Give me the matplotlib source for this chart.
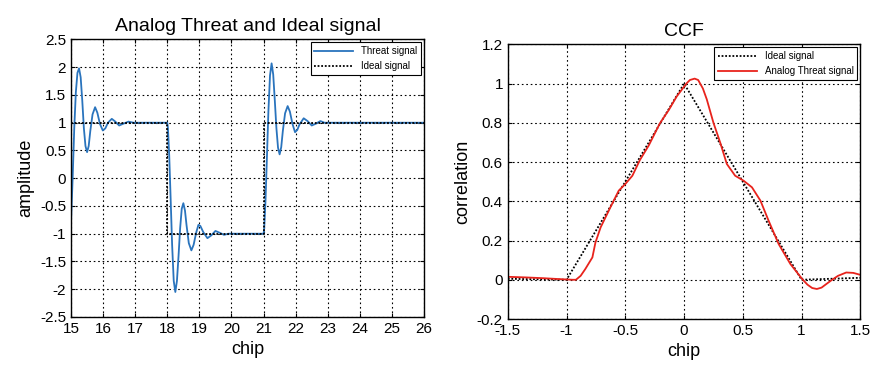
# ------------------------------------------------------------
# Analog threat signal vs ideal signal, and their CCF
# ------------------------------------------------------------
import matplotlib
matplotlib.use("Agg")
import matplotlib.pyplot as plt

plt.rcParams["font.family"] = ["Liberation Sans", "DejaVu Sans"]

# ------------------------------------------------------------
# Data
# ------------------------------------------------------------
threat_chip = [15.0, 15.05, 15.1, 15.15, 15.2, 15.25, 15.3, 15.35, 15.4, 15.45,
               15.5, 15.55, 15.6, 15.67, 15.75, 15.82, 15.9, 15.99, 16.07, 16.15,
               16.27, 16.38, 16.5, 16.62, 16.79, 16.95, 18.0,
               18.02, 18.06, 18.1, 18.15, 18.2, 18.25, 18.3, 18.35, 18.4, 18.45,
               18.5, 18.55, 18.6, 18.67, 18.75, 18.82, 18.9, 18.97, 19.03, 19.12,
               19.25, 19.37, 19.5, 19.62, 19.77, 19.9, 21.0,
               21.02, 21.06, 21.1, 21.15, 21.2, 21.25, 21.3, 21.35, 21.4, 21.45,
               21.5, 21.55, 21.6, 21.67, 21.75, 21.82, 21.9, 21.98, 22.05, 22.12,
               22.25, 22.37, 22.5, 22.62, 22.77, 22.9, 26.0]
threat_amp = [-0.78, 0.0, 0.9, 1.55, 1.9, 1.98, 1.82, 1.4, 0.9, 0.58,
              0.47, 0.58, 0.85, 1.15, 1.28, 1.18, 0.98, 0.86, 0.9, 1.0,
              1.07, 1.02, 0.95, 0.98, 1.02, 1.0, 1.0,
              0.9, 0.4, -0.3, -1.2, -1.85, -2.05, -1.85, -1.4, -0.9, -0.55,
              -0.45, -0.58, -0.85, -1.17, -1.3, -1.2, -0.98, -0.84, -0.86, -0.97,
              -1.08, -1.03, -0.95, -0.98, -1.02, -1.0, -1.0,
              -0.9, -0.4, 0.3, 1.2, 1.85, 2.07, 1.87, 1.4, 0.9, 0.55,
              0.43, 0.56, 0.85, 1.17, 1.3, 1.2, 0.98, 0.83, 0.87, 0.97,
              1.08, 1.03, 0.95, 0.98, 1.03, 1.0, 1.0]

ideal_chip = [15, 18, 18, 21, 21, 26]
ideal_amp = [1, 1, -1, -1, 1, 1]

ccf_ideal_lag = [-1.5, -1.0, 0.0, 1.0, 1.5]
ccf_ideal = [0.005, 0.0, 1.0, 0.0, 0.01]

ccf_threat_lag = [-1.5, -1.35, -1.2, -1.05, -0.95, -0.92, -0.88, -0.84, -0.78, -0.754,
                  -0.71, -0.627, -0.556, -0.5, -0.44, -0.376, -0.3, -0.206, -0.13, -0.064,
                  0.02, 0.05, 0.09, 0.12, 0.16, 0.193, 0.25, 0.307, 0.364, 0.435,
                  0.506, 0.578, 0.65, 0.72, 0.805, 0.905, 1.005, 1.05, 1.09, 1.13,
                  1.17, 1.21, 1.26, 1.31, 1.38, 1.44, 1.5]
ccf_threat = [0.015, 0.012, 0.008, 0.003, 0.0, 0.0, 0.02, 0.055, 0.114, 0.19,
              0.267, 0.369, 0.454, 0.488, 0.53, 0.61, 0.685, 0.797, 0.865, 0.933,
              1.0, 1.018, 1.025, 1.018, 0.975, 0.92, 0.8, 0.70, 0.59, 0.53,
              0.505, 0.471, 0.403, 0.30, 0.182, 0.08, 0.004, -0.025, -0.042, -0.047,
              -0.04, -0.022, 0.0, 0.02, 0.037, 0.035, 0.025]

# ------------------------------------------------------------
# Figure
# ------------------------------------------------------------
fig = plt.figure(figsize=(8.77, 3.69), dpi=100)
ax1 = fig.add_axes([0.081, 0.141, 0.4025, 0.752])
ax2 = fig.add_axes([0.579, 0.1355, 0.402, 0.7445])


def style_axes(ax):
    ax.grid(True, color="black", linestyle=(0, (1.5, 2.5)), linewidth=0.8)
    ax.tick_params(direction="in", top=True, right=True, length=3,
                   labelsize=11, width=0.8)
    for sp in ax.spines.values():
        sp.set_linewidth(1.0)


# ------------------------------------------------------------
# Left: signals
# ------------------------------------------------------------
ax1.plot(threat_chip, threat_amp, color="#2a74bd", linewidth=1.3, label="Threat signal")
ax1.plot(ideal_chip, ideal_amp, color="black", linestyle=(0, (1, 1)), linewidth=1.3,
         label="Ideal signal")
ax1.set_xlim(15, 26)
ax1.set_ylim(-2.5, 2.5)
ax1.set_xticks(range(15, 27))
ax1.set_yticks([-2.5, -2, -1.5, -1, -0.5, 0, 0.5, 1, 1.5, 2, 2.5])
ax1.set_yticklabels(["-2.5", "-2", "-1.5", "-1", "-0.5", "0", "0.5", "1", "1.5", "2", "2.5"])
ax1.set_title("Analog Threat and Ideal signal", fontsize=14)
ax1.set_xlabel("chip", fontsize=13)
ax1.set_ylabel("amplitude", fontsize=13)
style_axes(ax1)
leg1 = ax1.legend(loc="upper right", fontsize=7, fancybox=False, framealpha=1,
                  edgecolor="black", handlelength=4, borderaxespad=0.3)
leg1.get_frame().set_linewidth(0.8)

# ------------------------------------------------------------
# Right: CCF
# ------------------------------------------------------------
ax2.plot(ccf_ideal_lag, ccf_ideal, color="black", linestyle=(0, (1, 1)), linewidth=1.3,
         label="Ideal signal")
ax2.plot(ccf_threat_lag, ccf_threat, color="#e8231c", linewidth=1.3,
         label="Analog Threat signal")
ax2.set_xlim(-1.5, 1.5)
ax2.set_ylim(-0.2, 1.2)
ax2.set_xticks([-1.5, -1, -0.5, 0, 0.5, 1, 1.5])
ax2.set_xticklabels(["-1.5", "-1", "-0.5", "0", "0.5", "1", "1.5"])
ax2.set_yticks([-0.2, 0, 0.2, 0.4, 0.6, 0.8, 1, 1.2])
ax2.set_yticklabels(["-0.2", "0", "0.2", "0.4", "0.6", "0.8", "1", "1.2"])
ax2.set_title("CCF", fontsize=14)
ax2.set_xlabel("chip", fontsize=13)
ax2.set_ylabel("correlation", fontsize=13)
style_axes(ax2)
leg2 = ax2.legend(loc="upper right", fontsize=7, fancybox=False, framealpha=1,
                  edgecolor="black", handlelength=4, borderaxespad=0.3)
leg2.get_frame().set_linewidth(0.8)

fig.savefig("out.png", dpi=100)
